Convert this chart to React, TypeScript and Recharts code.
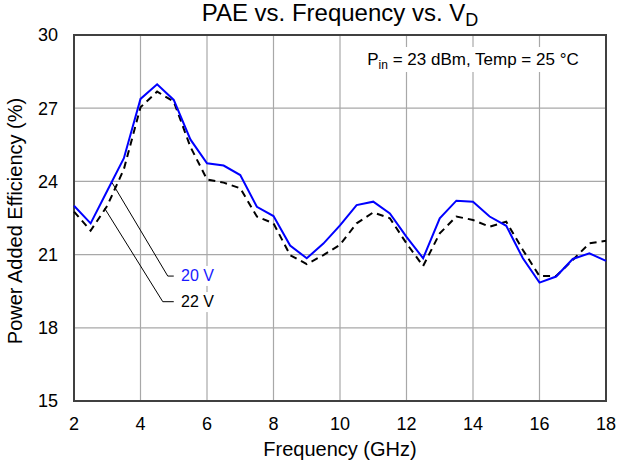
import React from 'react';
import { LineChart, Line, XAxis, YAxis, CartesianGrid, ReferenceArea, ReferenceLine, ReferenceDot } from 'recharts';

const FONT = '"Liberation Sans", Arial, sans-serif';

// frequency points (GHz)
const freqs = [2, 2.5, 3, 3.5, 4, 4.5, 5, 5.5, 6, 6.5, 7, 7.5, 8, 8.5, 9, 9.5, 10, 10.5, 11, 11.5, 12, 12.5, 13, 13.5, 14, 14.5, 15, 15.5, 16, 16.5, 17, 17.5, 18];

// PAE (%) at VD = 20 V
const pae20V = [23.0, 22.28, 23.62, 24.95, 27.38, 27.98, 27.34, 25.72, 24.74, 24.65, 24.26, 22.96, 22.58, 21.37, 20.85, 21.45, 22.2, 23.03, 23.17, 22.69, 21.73, 20.85, 22.49, 23.21, 23.17, 22.56, 22.18, 20.85, 19.85, 20.1, 20.82, 21.05, 20.74];

// PAE (%) at VD = 22 V
const pae22V = [22.76, 21.98, 23.0, 24.5, 27.04, 27.68, 27.27, 25.42, 24.08, 23.95, 23.72, 22.56, 22.28, 20.98, 20.61, 20.98, 21.4, 22.28, 22.73, 22.49, 21.46, 20.53, 21.87, 22.56, 22.42, 22.14, 22.35, 21.19, 20.12, 20.12, 20.78, 21.46, 21.57];

const xTicks = [2, 4, 6, 8, 10, 12, 14, 16, 18];
const yTicks = [15, 18, 21, 24, 27, 30];

const data = freqs.map((f, i) => ({ f, v20: pae20V[i], v22: pae22V[i] }));

const TitleLabel = (props: any) => {
  const vb = props.viewBox;
  return (
    <text x={vb.x + vb.width / 2} y={vb.y - 14} textAnchor="middle" fontFamily={FONT} fontSize={24} fill="#000">
      PAE vs. Frequency vs. V<tspan dy={5} fontSize={18}>D</tspan>
    </text>
  );
};

const XLabel = (props: any) => {
  const vb = props.viewBox;
  return (
    <text x={vb.x + vb.width / 2} y={vb.y + 55} textAnchor="middle" fontFamily={FONT} fontSize={20} fill="#000">
      Frequency (GHz)
    </text>
  );
};

const YLabel = (props: any) => {
  const vb = props.viewBox;
  const cx = 22;
  const cy = vb.y + vb.height / 2 + 3;
  return (
    <text x={cx} y={cy} transform={`rotate(-90, ${cx}, ${cy})`} textAnchor="middle" fontFamily={FONT} fontSize={20} fill="#000">
      Power Added Efficiency (%)
    </text>
  );
};

const CondNote = ({ cx, cy }: any) => (
  <g>
    <rect x={cx - 111} y={cy - 18} width={222} height={25} fill="#fff" />
    <text x={cx} y={cy} textAnchor="middle" fontFamily={FONT} fontSize={17} fill="#000">
      P<tspan dy={4} fontSize={12}>in</tspan><tspan dy={-4}> = 23 dBm, Temp = 25 °C</tspan>
    </text>
  </g>
);

const SeriesTag = ({ cx, cy, text, color }: any) => (
  <g>
    <rect x={cx - 2} y={cy - 15} width={40} height={20} fill="#fff" />
    <text x={cx} y={cy} fontFamily={FONT} fontSize={16} fill={color}>{text}</text>
  </g>
);

export default function App() {
  return (
    <div style={{ position: 'absolute', left: 0, top: 0, background: '#fff' }}>
      <LineChart width={617} height={465} data={data} margin={{ top: 35, right: 11, bottom: 0, left: 0 }}>
        <CartesianGrid stroke="#a8a8a8" strokeWidth={1.2} />
        <XAxis
          type="number"
          dataKey="f"
          domain={[2, 18]}
          ticks={xTicks}
          height={64}
          axisLine={false}
          tickLine={false}
          tickMargin={10}
          tick={{ fontSize: 18, fill: '#000', fontFamily: FONT }}
          label={(p: any) => <XLabel {...p} />}
        />
        <YAxis
          type="number"
          domain={[15, 30]}
          ticks={yTicks}
          width={74}
          axisLine={false}
          tickLine={false}
          tickMargin={10}
          tick={{ fontSize: 18, fill: '#000', fontFamily: FONT }}
          label={(p: any) => <YLabel {...p} />}
        />
        <ReferenceDot x={14} y={28.77} r={0} ifOverflow="visible" shape={(p: any) => <CondNote {...p} />} />
        <ReferenceLine segment={[{ x: 3.14, y: 23.96 }, { x: 4.82, y: 20.12 }]} stroke="#000" strokeWidth={1} />
        <ReferenceLine segment={[{ x: 4.82, y: 20.12 }, { x: 5.0, y: 20.12 }]} stroke="#000" strokeWidth={1} />
        <ReferenceLine segment={[{ x: 2.92, y: 22.9 }, { x: 4.67, y: 19.07 }]} stroke="#000" strokeWidth={1} />
        <ReferenceLine segment={[{ x: 4.67, y: 19.07 }, { x: 5.0, y: 19.07 }]} stroke="#000" strokeWidth={1} />
        <ReferenceDot x={5.22} y={19.92} r={0} ifOverflow="visible" shape={(p: any) => <SeriesTag {...p} text="20 V" color="#1a1aff" />} />
        <ReferenceDot x={5.22} y={18.85} r={0} ifOverflow="visible" shape={(p: any) => <SeriesTag {...p} text="22 V" color="#000" />} />
        <Line dataKey="v22" stroke="#000" strokeWidth={2} strokeDasharray="7 5" dot={false} isAnimationActive={false} />
        <Line dataKey="v20" stroke="#0000ff" strokeWidth={2} dot={false} isAnimationActive={false} />
        <ReferenceArea
          x1={2}
          x2={18}
          y1={15}
          y2={30}
          fill="none"
          stroke="#404040"
          strokeWidth={2}
          ifOverflow="visible"
          label={(p: any) => <TitleLabel {...p} />}
        />
      </LineChart>
    </div>
  );
}
